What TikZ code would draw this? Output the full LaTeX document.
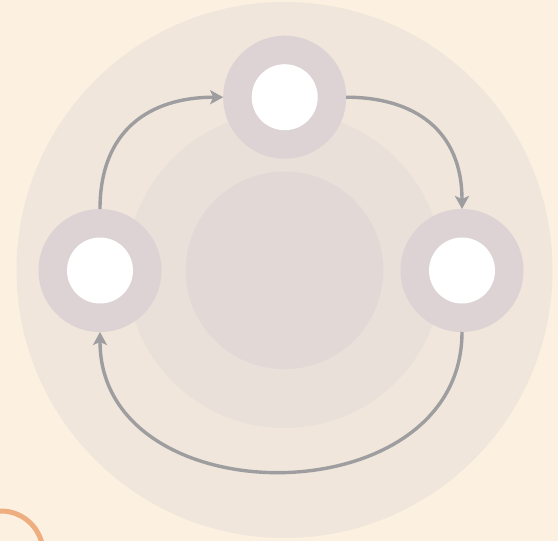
\documentclass[tikz,border=0pt]{standalone}
\usetikzlibrary{arrows.meta}
\definecolor{bgc}{RGB}{252,241,225}
\definecolor{bigc}{RGB}{240,230,219}
\definecolor{midc}{RGB}{233,224,218}
\definecolor{innc}{RGB}{226,216,214}
\definecolor{ringc}{RGB}{221,211,212}
\definecolor{arrc}{RGB}{158,158,160}
\definecolor{orc}{RGB}{238,174,128}
\tikzset{
  ring/.style={circle, fill=ringc, minimum size=123pt, inner sep=0pt, outer sep=0pt},
  hole/.style={circle, fill=white, minimum size=66pt, inner sep=0pt},
  flow/.style={draw=arrc, line width=3.4pt, -{Stealth[length=13pt,width=14pt,inset=3pt]}},
}
\begin{document}
\begin{tikzpicture}[x=1pt,y=-1pt]
\fill[bgc] (0,0) rectangle (558,541);
\useasboundingbox (0,0) rectangle (558,541);
\fill[bigc] (284.5,270) circle (268);
\fill[midc] (284.5,270) circle (158);
\fill[innc] (284.5,270.3) circle (98.8);
\node[ring] (top) at (284.7,97.2) {};
\node[ring] (left) at (100,270.5) {};
\node[ring] (right) at (462,270.5) {};
\node[hole] (toph) at (top) {};
\node[hole] (lefth) at (left) {};
\node[hole] (righth) at (right) {};
\draw[flow] (left.north) .. controls (100,130) and (150,97.2) .. (top.west);
\draw[flow] (top.east) .. controls (414,97.2) and (462,130) .. (right.north);
\draw[flow] (right.south) .. controls (462,518) and (100,518) .. (left.south);
\coordinate (oc) at (1,553);
\draw[orc, line width=5pt] (oc) circle (42);
\end{tikzpicture}
\end{document}
